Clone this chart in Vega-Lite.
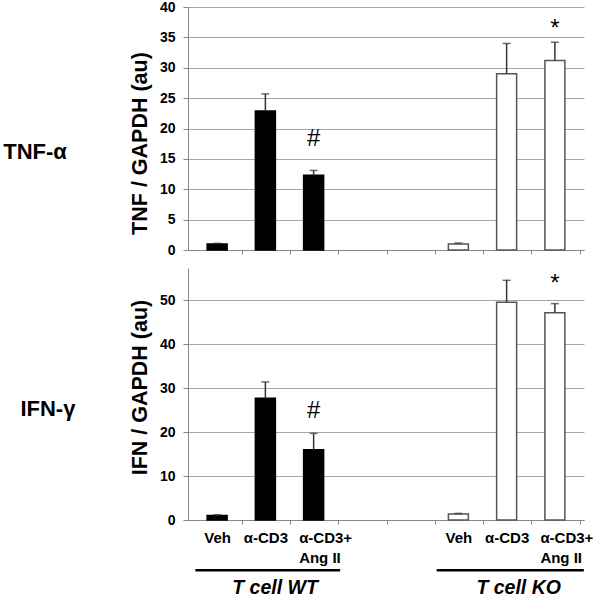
{
  "$schema": "https://vega.github.io/schema/vega-lite/v6.json",
  "padding": {"left": 3, "top": 0, "right": 0, "bottom": 0},
  "background": "white",
  "config": {
    "font": "Liberation Sans",
    "view": {"stroke": null},
    "concat": {"spacing": 11},
    "axis": {"labelColor": "black", "titleColor": "black", "domainColor": "#888888", "tickColor": "#888888", "gridColor": "#a6a6a6"}
  },
  "datasets": {
    "tnf": [
      {"x": 1, "v": 1.0, "err": 1.1, "g": "WT"},
      {"x": 2, "v": 22.9, "err": 25.7, "g": "WT"},
      {"x": 3, "v": 12.3, "err": 13.1, "g": "WT"},
      {"x": 6, "v": 1.0, "err": 1.15, "g": "KO"},
      {"x": 7, "v": 29.0, "err": 34.0, "g": "KO"},
      {"x": 8, "v": 31.2, "err": 34.2, "g": "KO"}
    ],
    "ifn": [
      {"x": 1, "v": 1.0, "err": 1.2, "g": "WT"},
      {"x": 2, "v": 27.7, "err": 31.4, "g": "WT"},
      {"x": 3, "v": 16.0, "err": 19.7, "g": "WT"},
      {"x": 6, "v": 1.35, "err": 1.5, "g": "KO"},
      {"x": 7, "v": 49.5, "err": 54.5, "g": "KO"},
      {"x": 8, "v": 47.1, "err": 49.2, "g": "KO"}
    ],
    "tnfMarks": [
      {"x": 3, "y": 18.3, "t": "#"},
      {"x": 8, "y": 36.4, "t": "*"}
    ],
    "ifnMarks": [
      {"x": 3, "y": 24.8, "t": "#"},
      {"x": 8, "y": 53.6, "t": "*"}
    ],
    "groups": [
      {"a": 0.55, "b": 3.55, "tx": 2.2, "ly": -11.4, "ty": -15.4, "t": "T cell WT"},
      {"a": 5.55, "b": 8.6, "tx": 7.25, "ly": -11.4, "ty": -15.4, "t": "T cell KO"}
    ]
  },
  "vconcat": [
    {
      "width": 396,
      "height": 243,
      "title": {"text": "TNF-α", "orient": "left", "angle": 0, "align": "right", "baseline": "middle", "anchor": "middle", "fontSize": 22, "fontWeight": "bold", "font": "Liberation Sans", "color": "black", "offset": -1, "dy": 23},
      "encoding": {
        "x": {"field": "x", "type": "quantitative", "scale": {"domain": [0.5, 8.5], "nice": false, "zero": false},
              "axis": {"title": null, "values": [1, 2, 3, 4, 5, 6, 7, 8], "labels": false, "grid": false, "tickOffset": 24.75, "tickSize": 4}}
      },
      "layer": [
        {
          "data": {"name": "tnf"},
          "mark": {"type": "bar", "width": 20, "strokeWidth": 1.5},
          "encoding": {
            "y": {"field": "v", "type": "quantitative", "scale": {"domain": [0, 40], "nice": false},
                  "axis": {"title": "TNF / GAPDH (au)", "titleY": 136, "values": [0, 5, 10, 15, 20, 25, 30, 35, 40], "labelOverlap": false, "titleFontSize": 21.5, "titleFontWeight": "bold", "labelFontSize": 14, "labelFontWeight": "bold", "tickSize": 5, "labelPadding": 8, "titlePadding": 8, "grid": true}},
            "fill": {"field": "g", "type": "nominal", "scale": {"domain": ["WT", "KO"], "range": ["black", "white"]}, "legend": null},
            "stroke": {"field": "g", "type": "nominal", "scale": {"domain": ["WT", "KO"], "range": ["black", "#555555"]}, "legend": null}
          }
        },
        {
          "data": {"name": "tnf"},
          "mark": {"type": "rule", "color": "#333333", "strokeWidth": 1.5},
          "encoding": {
            "y": {"field": "v", "type": "quantitative",
                  "axis": {"title": "TNF / GAPDH (au)", "titleY": 136, "values": [0, 5, 10, 15, 20, 25, 30, 35, 40], "labelOverlap": false, "titleFontSize": 21.5, "titleFontWeight": "bold", "labelFontSize": 14, "labelFontWeight": "bold", "tickSize": 5, "labelPadding": 8, "titlePadding": 8, "grid": true}},
            "y2": {"field": "err"}}
        },
        {
          "data": {"name": "tnf"},
          "mark": {"type": "tick", "orient": "horizontal", "size": 8, "thickness": 1.5, "color": "#333333"},
          "encoding": {"y": {"field": "err", "type": "quantitative",
                  "axis": {"title": "TNF / GAPDH (au)", "titleY": 136, "values": [0, 5, 10, 15, 20, 25, 30, 35, 40], "labelOverlap": false, "titleFontSize": 21.5, "titleFontWeight": "bold", "labelFontSize": 14, "labelFontWeight": "bold", "tickSize": 5, "labelPadding": 8, "titlePadding": 8, "grid": true}}}
        },
        {
          "data": {"name": "tnfMarks"},
          "mark": {"type": "text", "fontSize": 24, "baseline": "middle", "align": "center", "color": "black"},
          "encoding": {"y": {"field": "y", "type": "quantitative",
                  "axis": {"title": "TNF / GAPDH (au)", "titleY": 136, "values": [0, 5, 10, 15, 20, 25, 30, 35, 40], "labelOverlap": false, "titleFontSize": 21.5, "titleFontWeight": "bold", "labelFontSize": 14, "labelFontWeight": "bold", "tickSize": 5, "labelPadding": 8, "titlePadding": 8, "grid": true}},
                       "text": {"field": "t"},
                       "fontSize": {"condition": {"test": "datum.t == '*'", "value": 30}, "value": 24},
                       "fontWeight": {"condition": {"test": "datum.t == '*'", "value": "bold"}, "value": "normal"},
                       "dy": {"condition": {"test": "datum.t == '*'", "value": 9}, "value": 0}}
        }
      ]
    },
    {
      "width": 396,
      "height": 252,
      "title": {"text": "IFN-γ", "orient": "left", "angle": 0, "align": "right", "baseline": "middle", "anchor": "middle", "fontSize": 22, "fontWeight": "bold", "font": "Liberation Sans", "color": "black", "offset": -1, "dy": 15},
      "encoding": {
        "x": {"field": "x", "type": "quantitative", "scale": {"domain": [0.5, 8.5], "nice": false, "zero": false},
              "axis": {"title": null, "values": [1, 2, 3, 4, 5, 6, 7, 8], "grid": false, "tickOffset": 24.75, "tickSize": 4,
                       "labelExpr": "datum.value == 1 || datum.value == 6 ? 'Veh' : (datum.value == 2 || datum.value == 7 ? 'α-CD3' : (datum.value == 3 || datum.value == 8 ? ['α-CD3+', 'Ang II'] : ''))",
                       "labelFontSize": 15, "labelFontWeight": "bold", "labelPadding": 6, "labelLineHeight": 20, "labelBaseline": "top",
                       "labelAlign": {"condition": {"test": "datum.value == 3 || datum.value == 8", "value": "left"}, "value": "center"},
                       "labelOffset": {"condition": {"test": "datum.value == 3 || datum.value == 8", "value": -39.75}, "value": -24.75},
                       "labelOverlap": false, "labelFlush": false}}
      },
      "layer": [
        {
          "data": {"name": "ifn"},
          "mark": {"type": "bar", "width": 20, "strokeWidth": 1.5},
          "encoding": {
            "y": {"field": "v", "type": "quantitative", "scale": {"domain": [0, 57.3], "nice": false},
                  "axis": {"title": "IFN / GAPDH (au)", "titleY": 119, "values": [0, 10, 20, 30, 40, 50], "labelOverlap": false, "titleFontSize": 21.5, "titleFontWeight": "bold", "labelFontSize": 14, "labelFontWeight": "bold", "tickSize": 5, "labelPadding": 8, "titlePadding": 8, "grid": true}},
            "fill": {"field": "g", "type": "nominal", "scale": {"domain": ["WT", "KO"], "range": ["black", "white"]}, "legend": null},
            "stroke": {"field": "g", "type": "nominal", "scale": {"domain": ["WT", "KO"], "range": ["black", "#555555"]}, "legend": null}
          }
        },
        {
          "data": {"name": "ifn"},
          "mark": {"type": "rule", "color": "#333333", "strokeWidth": 1.5},
          "encoding": {"y": {"field": "v", "type": "quantitative",
                  "axis": {"title": "IFN / GAPDH (au)", "titleY": 119, "values": [0, 10, 20, 30, 40, 50], "labelOverlap": false, "titleFontSize": 21.5, "titleFontWeight": "bold", "labelFontSize": 14, "labelFontWeight": "bold", "tickSize": 5, "labelPadding": 8, "titlePadding": 8, "grid": true}},
                       "y2": {"field": "err"}}
        },
        {
          "data": {"name": "ifn"},
          "mark": {"type": "tick", "orient": "horizontal", "size": 8, "thickness": 1.5, "color": "#333333"},
          "encoding": {"y": {"field": "err", "type": "quantitative",
                  "axis": {"title": "IFN / GAPDH (au)", "titleY": 119, "values": [0, 10, 20, 30, 40, 50], "labelOverlap": false, "titleFontSize": 21.5, "titleFontWeight": "bold", "labelFontSize": 14, "labelFontWeight": "bold", "tickSize": 5, "labelPadding": 8, "titlePadding": 8, "grid": true}}}
        },
        {
          "data": {"name": "ifnMarks"},
          "mark": {"type": "text", "fontSize": 24, "baseline": "middle", "align": "center", "color": "black"},
          "encoding": {"y": {"field": "y", "type": "quantitative",
                  "axis": {"title": "IFN / GAPDH (au)", "titleY": 119, "values": [0, 10, 20, 30, 40, 50], "labelOverlap": false, "titleFontSize": 21.5, "titleFontWeight": "bold", "labelFontSize": 14, "labelFontWeight": "bold", "tickSize": 5, "labelPadding": 8, "titlePadding": 8, "grid": true}},
                       "text": {"field": "t"},
                       "fontSize": {"condition": {"test": "datum.t == '*'", "value": 30}, "value": 24},
                       "fontWeight": {"condition": {"test": "datum.t == '*'", "value": "bold"}, "value": "normal"},
                       "dy": {"condition": {"test": "datum.t == '*'", "value": 9}, "value": 0}}
        },
        {
          "data": {"name": "groups"},
          "mark": {"type": "rule", "color": "black", "strokeWidth": 2.5},
          "encoding": {"x": {"field": "a", "type": "quantitative"}, "x2": {"field": "b"},
                       "y": {"field": "ly", "type": "quantitative",
                  "axis": {"title": "IFN / GAPDH (au)", "titleY": 119, "values": [0, 10, 20, 30, 40, 50], "labelOverlap": false, "titleFontSize": 21.5, "titleFontWeight": "bold", "labelFontSize": 14, "labelFontWeight": "bold", "tickSize": 5, "labelPadding": 8, "titlePadding": 8, "grid": true}}}
        },
        {
          "data": {"name": "groups"},
          "mark": {"type": "text", "fontSize": 19.5, "fontWeight": "bold", "fontStyle": "italic", "baseline": "middle", "align": "center", "color": "black"},
          "encoding": {"x": {"field": "tx", "type": "quantitative"},
                       "y": {"field": "ty", "type": "quantitative",
                  "axis": {"title": "IFN / GAPDH (au)", "titleY": 119, "values": [0, 10, 20, 30, 40, 50], "labelOverlap": false, "titleFontSize": 21.5, "titleFontWeight": "bold", "labelFontSize": 14, "labelFontWeight": "bold", "tickSize": 5, "labelPadding": 8, "titlePadding": 8, "grid": true}},
                       "text": {"field": "t"}}
        }
      ]
    }
  ]
}
